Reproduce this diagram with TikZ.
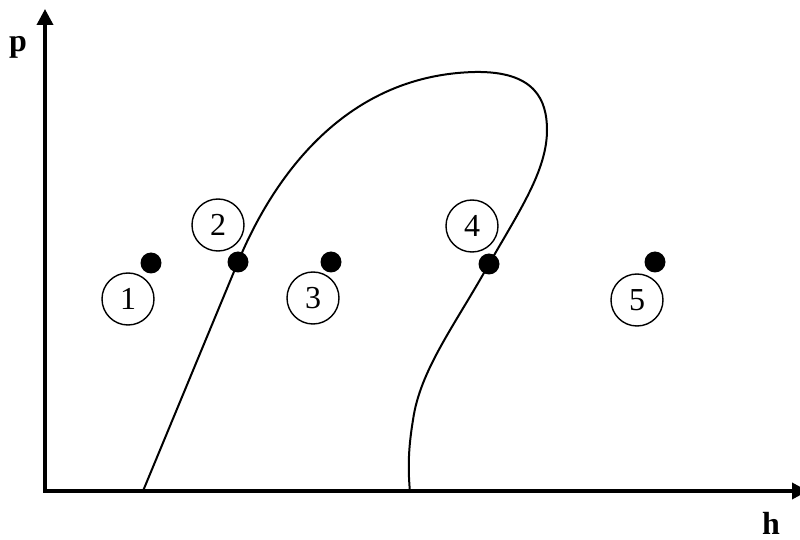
\documentclass[tikz,border=0pt]{standalone}
\usepackage{fontspec}
\setmainfont{Liberation Serif}
\usetikzlibrary{arrows.meta}

\begin{document}
\begin{tikzpicture}[
    x=0.5pt, y=-0.5pt,
    >={Triangle[length=8pt,width=8pt]},
    % Styles for axes, the dome curve and the numbered states
    axis/.style={line width=1.8pt, line join=miter},
    dome/.style={line width=1pt},
    state/.style={circle, fill=black, inner sep=0pt, minimum size=10.5pt},
    tag/.style={circle, draw=black, line width=0.7pt, inner sep=0pt, minimum size=26pt, font=\fontsize{16}{19}\selectfont},
    axlabel/.style={font=\fontsize{16}{19}\selectfont\bfseries}
]
  \clip (0,0) rectangle (800,540);

  % --- AXES ---
  \coordinate (origin) at (45,491);
  \coordinate (pmax) at (45,9);
  \coordinate (hmax) at (808,491);
  \draw[axis, <->] (pmax) -- (origin) -- (hmax);
  \node[axlabel] (plabel) at (18,47) {p};
  \node[axlabel] (hlabel) at (771,523) {h};

  % --- STATES ---
  \node[state] (s1) at (151,263) {};
  \node[state] (s2) at (238,262) {};
  \node[state] (s3) at (331,262) {};
  \node[state] (s4) at (489,264) {};
  \node[state] (s5) at (655,262) {};

  \node[tag] (t1) at (128,299) {1};
  \node[tag] (t2) at (218,225) {2};
  \node[tag] (t3) at (313,298) {3};
  \node[tag] (t4) at (472,226) {4};
  \node[tag] (t5) at (637,300) {5};

  % --- DOME ---
  \coordinate (left) at (143,491);
  \coordinate (right) at (410,492);
  \draw[dome] (left) -- (s2.center)
    .. controls (270,185) and (340,75) .. (475,72)
    .. controls (535,71) and (547,100) .. (547,130)
    .. controls (547,170) and (520,210) .. (s4.center)
    .. controls (455,325) and (420,370) .. (413,420)
    .. controls (408,450) and (408,470) .. (right);

\end{tikzpicture}
\end{document}
